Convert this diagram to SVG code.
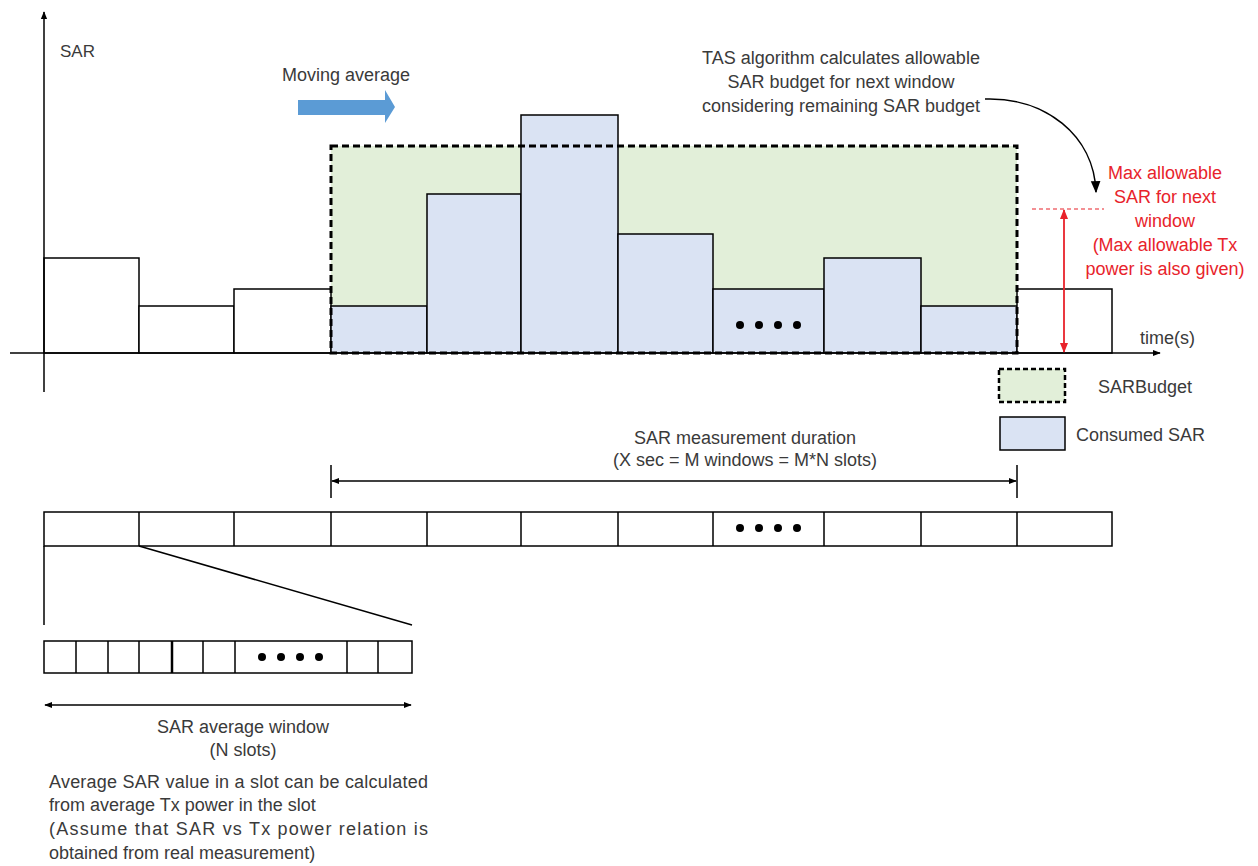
<svg xmlns="http://www.w3.org/2000/svg" width="1258" height="866" viewBox="0 0 1258 866">
<style>
text{font-family:"Liberation Sans",Arial,sans-serif;font-size:18px;fill:#3a3a3a}
.red{fill:#e8232b}
.bar{fill:#fff;stroke:#000;stroke-width:1.5}
.cons{fill:#dae3f3;stroke:#000;stroke-width:1.5}
.budget{fill:#e2efd9;stroke:none}
.budgetline{fill:none;stroke:#000;stroke-width:3;stroke-dasharray:7 4}
.ln{stroke:#000;stroke-width:1.5;fill:none}
.cell{fill:#fff;stroke:#000;stroke-width:1.5}
</style>
<defs>
<marker id="ah" viewBox="0 0 10 10" refX="9" refY="5" markerWidth="8" markerHeight="8" orient="auto-start-reverse" markerUnits="userSpaceOnUse"><path d="M0,1 L10,5 L0,9 z" fill="#000"/></marker>
<marker id="ahr" viewBox="0 0 10 10" refX="9" refY="5" markerWidth="10" markerHeight="10" orient="auto-start-reverse" markerUnits="userSpaceOnUse"><path d="M0,1 L10,5 L0,9 z" fill="#e8232b"/></marker>
<marker id="ahc" viewBox="0 0 10 10" refX="9" refY="5" markerWidth="12" markerHeight="12" orient="auto" markerUnits="userSpaceOnUse"><path d="M0,1 L10,5 L0,9 z" fill="#000"/></marker>
</defs>

<g id="budget-area">
<rect class="budget" x="331" y="146" width="686" height="207"/>
</g>

<g id="bars">
<rect class="bar" x="44" y="258" width="95" height="95"/>
<rect class="bar" x="139" y="306" width="95" height="47"/>
<rect class="bar" x="234" y="289" width="97" height="64"/>
<rect class="cons" x="331" y="306" width="96" height="47"/>
<rect class="cons" x="427" y="194" width="94" height="159"/>
<rect class="cons" x="521" y="115" width="97" height="238"/>
<rect class="cons" x="618" y="234" width="95" height="119"/>
<rect class="cons" x="713" y="289" width="111" height="64"/>
<rect class="cons" x="824" y="258" width="97" height="95"/>
<rect class="cons" x="921" y="306" width="96" height="47"/>
<rect class="bar" x="1017" y="289" width="95" height="64"/>
<circle cx="740" cy="325" r="4" fill="#000"/>
<circle cx="759" cy="325" r="4" fill="#000"/>
<circle cx="778" cy="325" r="4" fill="#000"/>
<circle cx="797" cy="325" r="4" fill="#000"/>
</g>

<g id="budget-border">
<rect class="budgetline" x="331" y="146" width="686" height="207"/>
</g>

<g id="axes">
<line class="ln" x1="44" y1="392" x2="44" y2="12" marker-end="url(#ah)"/>
<line class="ln" x1="10" y1="353" x2="1160" y2="353" marker-end="url(#ah)"/>
<text x="60" y="57" style="font-size:17px">SAR</text>
<text x="1140" y="344">time(s)</text>
</g>

<g id="moving-average">
<path d="M298,100 H385 V90 L395,107 L385,123 V115 H298 Z" fill="#5b9bd5"/>
<text x="282" y="81">Moving average</text>
</g>

<g id="tas-note">
<text x="841" y="64" text-anchor="middle">TAS algorithm calculates allowable</text>
<text x="841" y="88" text-anchor="middle">SAR budget for next window</text>
<text x="841" y="112" text-anchor="middle">considering remaining SAR budget</text>
</g>

<g id="max-allowable">
<line x1="1032" y1="209" x2="1104" y2="209" stroke="#e8232b" stroke-width="1.2" stroke-dasharray="4 3"/>
<text class="red" x="1165" y="179" text-anchor="middle">Max allowable</text>
<text class="red" x="1165" y="203" text-anchor="middle">SAR for next</text>
<text class="red" x="1165" y="227" text-anchor="middle">window</text>
<text class="red" x="1165" y="251" text-anchor="middle">(Max allowable Tx</text>
<text class="red" x="1165" y="275" text-anchor="middle">power is also given)</text>
</g>

<g id="legend">
<rect x="999" y="369" width="66" height="33" fill="#e2efd9" stroke="#000" stroke-width="2.5" stroke-dasharray="5 3"/>
<text x="1098" y="393">SARBudget</text>
<rect x="1000" y="417" width="65" height="33" fill="#dae3f3" stroke="#000" stroke-width="1.5"/>
<text x="1076" y="441">Consumed SAR</text>
</g>

<g id="measurement-duration">
<text x="745" y="444" text-anchor="middle">SAR measurement duration</text>
<text x="745" y="466" text-anchor="middle">(X sec = M windows = M*N slots)</text>
</g>

<g id="window-strip">
<rect class="cell" x="44" y="512" width="1068" height="34"/>
<path class="ln" d="M139,512 V546 M234,512 V546 M331,512 V546 M427,512 V546 M521,512 V546 M618,512 V546 M713,512 V546 M824,512 V546 M921,512 V546 M1017,512 V546"/>
<circle cx="740" cy="528" r="4" fill="#000"/>
<circle cx="759" cy="528" r="4" fill="#000"/>
<circle cx="778" cy="528" r="4" fill="#000"/>
<circle cx="797" cy="528" r="4" fill="#000"/>
</g>

<g id="slot-strip">
<rect class="cell" x="44" y="641" width="368" height="32"/>
<path class="ln" d="M76,641 V673 M108,641 V673 M139,641 V673 M203,641 V673 M235,641 V673 M347,641 V673 M378,641 V673"/>
<line x1="172" y1="641" x2="172" y2="673" stroke="#000" stroke-width="2.5"/>
<circle cx="262" cy="657" r="4" fill="#000"/>
<circle cx="281" cy="657" r="4" fill="#000"/>
<circle cx="300" cy="657" r="4" fill="#000"/>
<circle cx="319" cy="657" r="4" fill="#000"/>
<text x="243" y="733" text-anchor="middle">SAR average window</text>
<text x="243" y="756" text-anchor="middle">(N slots)</text>
</g>

<g id="note">
<text x="49" y="788" textLength="379" lengthAdjust="spacing">Average SAR value in a slot can be calculated</text>
<text x="49" y="811">from average Tx power in the slot</text>
<text x="49" y="835" textLength="379" lengthAdjust="spacing">(Assume that SAR vs Tx power relation is</text>
<text x="49" y="859">obtained from real measurement)</text>
</g>

<g id="connectors">
<path class="ln" d="M985,99 C1045,97 1094,135 1096,192" marker-end="url(#ahc)"/>
<line x1="1064" y1="210" x2="1064" y2="352" stroke="#e8232b" stroke-width="1.8" marker-start="url(#ahr)" marker-end="url(#ahr)"/>
<line class="ln" x1="331" y1="465" x2="331" y2="498"/>
<line class="ln" x1="1017" y1="465" x2="1017" y2="498"/>
<line class="ln" x1="332" y1="481" x2="1016" y2="481" marker-start="url(#ah)" marker-end="url(#ah)"/>
<line class="ln" x1="44" y1="546" x2="44" y2="625"/>
<line class="ln" x1="139" y1="546" x2="412" y2="625"/>
<line class="ln" x1="45" y1="705" x2="411" y2="705" marker-start="url(#ah)" marker-end="url(#ah)"/>
</g>
</svg>
